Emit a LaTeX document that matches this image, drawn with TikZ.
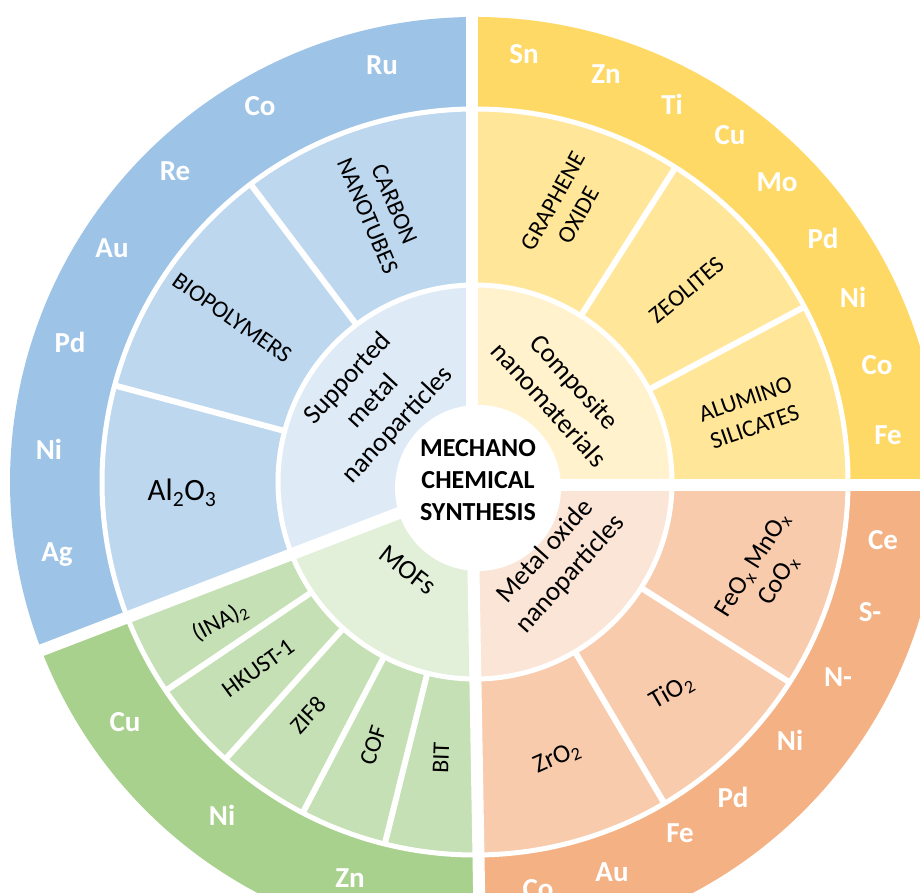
\documentclass[tikz,border=0pt]{standalone}
\usepackage{fontspec}
\setmainfont{Carlito}
\usepackage{xcolor}
\usepackage{tikz}

\definecolor{blueA}{HTML}{9DC3E6}
\definecolor{blueB}{HTML}{BDD7EE}
\definecolor{blueC}{HTML}{DEEBF7}
\definecolor{yelA}{HTML}{FFD966}
\definecolor{yelB}{HTML}{FFE699}
\definecolor{yelC}{HTML}{FFF2CC}
\definecolor{oraA}{HTML}{F4B183}
\definecolor{oraB}{HTML}{F8CBAD}
\definecolor{oraC}{HTML}{FBE5D6}
\definecolor{grnA}{HTML}{A9D18E}
\definecolor{grnB}{HTML}{C5E0B4}
\definecolor{grnC}{HTML}{E2F0D9}

\begin{document}
\begin{tikzpicture}[
    x=1pt, y=1pt,
    metal/.style={text=white, inner sep=0pt, font=\fontsize{29}{29}\selectfont\bfseries},
    support/.style={align=center, inner sep=0pt, font=\fontsize{24}{29}\selectfont},
    family/.style={align=center, inner sep=0pt, font=\fontsize{27}{34}\selectfont},
    gap/.style={white, line width=12pt},
    ring/.style={white, line width=5pt},
    divider/.style={white, line width=6pt}
]
    \useasboundingbox (0,0) rectangle (920,893);
    \clip (0,0) rectangle (920,893);
    \coordinate (C) at (475,411);
    \coordinate (G) at (472,408);

    % the four quadrants
    \fill[blueA] (C) -- ++(90:465) arc[start angle=90, end angle=201, radius=465] -- cycle;
    \fill[blueB] (C) -- ++(90:373) arc[start angle=90, end angle=201, radius=373] -- cycle;
    \fill[blueC] (C) -- ++(90:197) arc[start angle=90, end angle=201, radius=197] -- cycle;
    \fill[grnA] (C) -- ++(201:465) arc[start angle=201, end angle=271, radius=465] -- cycle;
    \fill[grnB] (C) -- ++(201:373) arc[start angle=201, end angle=271, radius=373] -- cycle;
    \fill[grnC] (C) -- ++(201:197) arc[start angle=201, end angle=271, radius=197] -- cycle;
    \fill[oraA] (C) -- ++(271:465) arc[start angle=271, end angle=360, radius=465] -- cycle;
    \fill[oraB] (C) -- ++(271:373) arc[start angle=271, end angle=360, radius=373] -- cycle;
    \fill[oraC] (C) -- ++(271:197) arc[start angle=271, end angle=360, radius=197] -- cycle;
    \fill[yelA] (C) -- ++(0:465) arc[start angle=0, end angle=90, radius=465] -- cycle;
    \fill[yelB] (C) -- ++(0:373) arc[start angle=0, end angle=90, radius=373] -- cycle;
    \fill[yelC] (C) -- ++(0:197) arc[start angle=0, end angle=90, radius=197] -- cycle;

    \draw[ring] (C) circle[radius=373];
    \draw[ring] (C) circle[radius=197];

    % dividers of the middle band
    \draw[divider] (C) ++(127:197) -- ++(127:176);
    \draw[divider] (C) ++(165:197) -- ++(165:176);
    \draw[divider] (C) ++(57.5:197) -- ++(57.5:176);
    \draw[divider] (C) ++(28:197) -- ++(28:176);
    \draw[divider] (C) ++(327.5:197) -- ++(327.5:176);
    \draw[divider] (C) ++(300.5:197) -- ++(300.5:176);
    \draw[divider] (C) ++(214:197) -- ++(214:176);
    \draw[divider] (C) ++(228:197) -- ++(228:176);
    \draw[divider] (C) ++(242.5:197) -- ++(242.5:176);
    \draw[divider] (C) ++(256:197) -- ++(256:176);

    \draw[gap] (G) -- ++(90:600);
    \draw[gap] (G) -- ++(0:600);
    \draw[gap] (G) -- ++(271:600);
    \draw[gap] (G) -- ++(201:600);

    \node[circle, fill=white, minimum size=166pt, inner sep=0pt] (core) at (478,405) {};
    \node[align=center, font=\fontsize{26}{32}\selectfont\bfseries] (title) at (478,413) {MECHANO\\CHEMICAL\\SYNTHESIS};

    % inner band
    \node[family, rotate=47] (supported) at (373,491) {Supported\\metal\\nanoparticles};
    \node[family, rotate=-48] (composite) at (562,500) {Composite\\nanomaterials};
    \node[family, rotate=48] (oxide) at (558,330) {Metal oxide\\nanoparticles};
    \node[family, rotate=-38] (mofs) at (408,323) {MOFs};

    % middle band
    \node[support, rotate=-67] (cnt) at (381,683) {CARBON\\NANOTUBES};
    \node[support, rotate=-35] (bio) at (232,575) {BIOPOLYMERS};
    \node[support, font=\fontsize{31}{34}\selectfont] (alumina) at (182,400) {Al\textsubscript{2}O\textsubscript{3}};
    \node[support, rotate=61] (go) at (566,685) {GRAPHENE\\OXIDE};
    \node[support, rotate=40] (zeo) at (687,603) {ZEOLITES};
    \node[support, rotate=19] (alsi) at (750,480) {ALUMINO\\SILICATES};
    \node[support, rotate=58, font=\fontsize{26}{30}\selectfont] (feox) at (766,320) {FeO\textsubscript{x} MnO\textsubscript{x}\\CoO\textsubscript{x}};
    \node[support, rotate=30, font=\fontsize{26}{30}\selectfont] (tio) at (672,201) {TiO\textsubscript{2}};
    \node[support, rotate=24, font=\fontsize{26}{30}\selectfont] (zro) at (557,135) {ZrO\textsubscript{2}};
    \node[support, rotate=28] (ina) at (220,271) {(INA)\textsubscript{2}};
    \node[support, rotate=36] (hkust) at (258,225) {HKUST-1};
    \node[support, rotate=47] (zif) at (308,178) {ZIF8};
    \node[support, rotate=72] (cof) at (373,148) {COF};
    \node[support, rotate=88] (bit) at (441,135) {BIT};

    % outer band
    \node[metal] (b-ru) at (382,828) {Ru};
    \node[metal] (b-co) at (260,787) {Co};
    \node[metal] (b-re) at (175,722) {Re};
    \node[metal] (b-au) at (112,645) {Au};
    \node[metal] (b-pd) at (70,551) {Pd};
    \node[metal] (b-ni) at (49,444) {Ni};
    \node[metal] (b-ag) at (57,338) {Ag};

    \node[metal] (y-sn) at (524,839) {Sn};
    \node[metal] (y-zn) at (606,819) {Zn};
    \node[metal] (y-ti) at (672,789) {Ti};
    \node[metal] (y-cu) at (730,758) {Cu};
    \node[metal] (y-mo) at (777,711) {Mo};
    \node[metal] (y-pd) at (823,655) {Pd};
    \node[metal] (y-ni) at (853,596) {Ni};
    \node[metal] (y-co) at (877,528) {Co};
    \node[metal] (y-fe) at (888,458) {Fe};

    \node[metal] (o-ce) at (883,353) {Ce};
    \node[metal] (o-s) at (870,281) {S-};
    \node[metal] (o-n) at (838,216) {N-};
    \node[metal] (o-ni) at (790,153) {Ni};
    \node[metal] (o-pd) at (733,96) {Pd};
    \node[metal] (o-fe) at (680,60) {Fe};
    \node[metal] (o-au) at (612,21) {Au};
    \node[metal] (o-co) at (538,4) {Co};

    \node[metal] (g-cu) at (125,171) {Cu};
    \node[metal] (g-ni) at (222,78) {Ni};
    \node[metal] (g-zn) at (350,15) {Zn};
\end{tikzpicture}
\end{document}
